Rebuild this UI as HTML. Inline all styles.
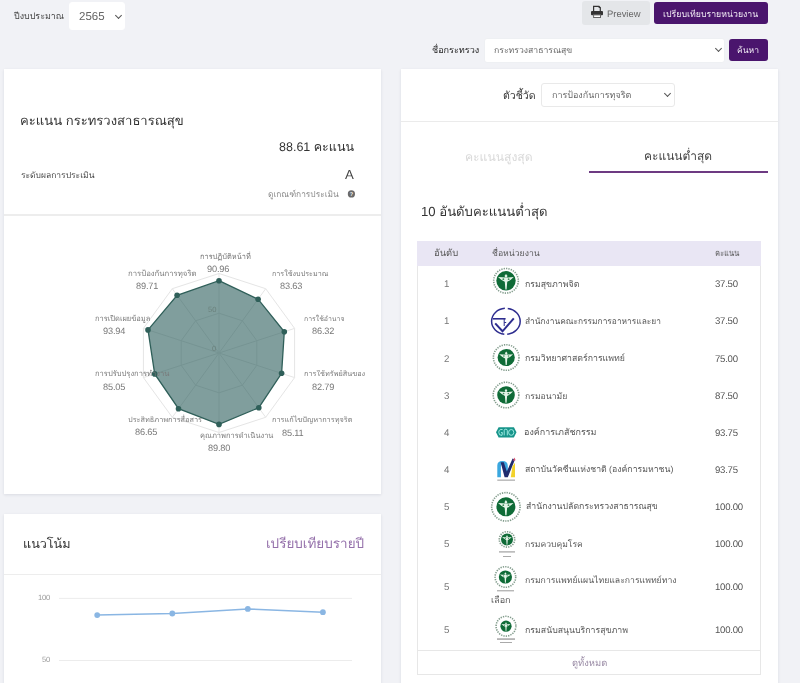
<!DOCTYPE html>
<html><head><meta charset="utf-8">
<style>
*{box-sizing:border-box;margin:0;padding:0}
html,body{width:800px;height:683px;overflow:hidden}
body{background:#f1f2f6;font-family:"Liberation Sans",sans-serif;color:#333;position:relative;text-rendering:geometricPrecision}
.a{position:absolute}
.t{position:absolute;white-space:nowrap;line-height:1;will-change:transform}
.card{position:absolute;background:#fff;box-shadow:0 1px 3px rgba(20,30,60,.10)}
.sel{position:absolute;background:#fff;border-radius:3px;border:1px solid #e7e8ec}
.chev{position:absolute;width:5px;height:5px;border-right:1.4px solid #555;border-bottom:1.4px solid #555;transform:rotate(45deg)}
.btnp{position:absolute;background:#4a156d;border-radius:3px}
</style></head>
<body>
<!-- top bar -->
<div class="sel" style="left:68.6px;top:2px;width:56.4px;height:27.8px;border-color:#fff"></div>
<div class="chev" style="left:115.5px;top:12.5px"></div>

<div class="a" style="left:582px;top:1.2px;width:67.5px;height:24px;background:#e4e6e9;border-radius:3px"></div>
<svg class="a" style="left:590px;top:5px" width="14" height="14" viewBox="0 0 14 14">
 <path d="M3.6,6.4 V1.4 H9 L10.3,2.7 V6.4" fill="none" stroke="#333" stroke-width="1.2"/>
 <path d="M8.6,0.9 L10.8,3.1 L8.6,3.1 Z" fill="#333"/>
 <rect x="1" y="6" width="12" height="4.2" rx="1" fill="#333"/>
 <rect x="3.6" y="9.9" width="6.9" height="2.6" fill="#fff" stroke="#666" stroke-width="1"/>
</svg>

<div class="btnp" style="left:654px;top:1.8px;width:113.8px;height:22.6px"></div>

<div class="sel" style="left:483.5px;top:38px;width:241.5px;height:24.5px;border-color:#eef0f3"></div>
<div class="chev" style="left:716px;top:46px"></div>
<div class="btnp" style="left:729px;top:39px;width:38.8px;height:21.6px"></div>

<!-- card 1 -->
<div class="card" style="left:4px;top:69px;width:377px;height:425px"></div>
<svg class="a" style="left:347px;top:190px" width="9" height="9" viewBox="0 0 9 9"><circle cx="4.4" cy="3.9" r="3.6" fill="#6a6a6a"/><text x="4.4" y="6" font-size="5.5" font-weight="bold" text-anchor="middle" fill="#fff" font-family="Liberation Sans">?</text></svg>
<div class="a" style="left:4px;top:214px;width:377px;height:2px;background:#ededed"></div>

<svg class="a" style="left:0;top:0" width="400" height="500" viewBox="0 0 400 500">
<polygon points="219.0,273.5 265.7,288.7 294.6,328.4 294.6,377.6 265.7,417.3 219.0,432.5 172.3,417.3 143.4,377.6 143.4,328.4 172.3,288.7" fill="none" stroke="#e5e5e5" stroke-width="1"/>
<polygon points="219.0,313.2 242.4,320.8 256.8,340.7 256.8,365.3 242.4,385.2 219.0,392.8 195.6,385.2 181.2,365.3 181.2,340.7 195.6,320.8" fill="none" stroke="#e5e5e5" stroke-width="1"/>
<line x1="219.0" y1="353.0" x2="219.0" y2="273.5" stroke="#e5e5e5" stroke-width="1"/>
<line x1="219.0" y1="353.0" x2="265.7" y2="288.7" stroke="#e5e5e5" stroke-width="1"/>
<line x1="219.0" y1="353.0" x2="294.6" y2="328.4" stroke="#e5e5e5" stroke-width="1"/>
<line x1="219.0" y1="353.0" x2="294.6" y2="377.6" stroke="#e5e5e5" stroke-width="1"/>
<line x1="219.0" y1="353.0" x2="265.7" y2="417.3" stroke="#e5e5e5" stroke-width="1"/>
<line x1="219.0" y1="353.0" x2="219.0" y2="432.5" stroke="#e5e5e5" stroke-width="1"/>
<line x1="219.0" y1="353.0" x2="172.3" y2="417.3" stroke="#e5e5e5" stroke-width="1"/>
<line x1="219.0" y1="353.0" x2="143.4" y2="377.6" stroke="#e5e5e5" stroke-width="1"/>
<line x1="219.0" y1="353.0" x2="143.4" y2="328.4" stroke="#e5e5e5" stroke-width="1"/>
<line x1="219.0" y1="353.0" x2="172.3" y2="288.7" stroke="#e5e5e5" stroke-width="1"/>
<polygon points="219.0,280.7 258.1,299.2 284.3,331.8 281.6,373.3 258.8,407.7 219.0,424.4 178.5,408.7 154.7,373.9 148.0,329.9 177.1,295.3" fill="rgba(44,94,92,0.6)" stroke="#2f5f59" stroke-width="1.3"/>
<circle cx="219.0" cy="280.7" r="2.8" fill="#2f5f59"/>
<circle cx="258.1" cy="299.2" r="2.8" fill="#2f5f59"/>
<circle cx="284.3" cy="331.8" r="2.8" fill="#2f5f59"/>
<circle cx="281.6" cy="373.3" r="2.8" fill="#2f5f59"/>
<circle cx="258.8" cy="407.7" r="2.8" fill="#2f5f59"/>
<circle cx="219.0" cy="424.4" r="2.8" fill="#2f5f59"/>
<circle cx="178.5" cy="408.7" r="2.8" fill="#2f5f59"/>
<circle cx="154.7" cy="373.9" r="2.8" fill="#2f5f59"/>
<circle cx="148.0" cy="329.9" r="2.8" fill="#2f5f59"/>
<circle cx="177.1" cy="295.3" r="2.8" fill="#2f5f59"/>
</svg>

<!-- card 2 -->
<div class="card" style="left:4px;top:514px;width:377px;height:200px"></div>
<div class="a" style="left:4px;top:573.5px;width:377px;height:1.5px;background:#ededed"></div>
<svg class="a" style="left:0;top:0" width="400" height="683" viewBox="0 0 400 683">
 <line x1="59" y1="598.4" x2="352" y2="598.4" stroke="#ececec" stroke-width="1"/>
 <line x1="59" y1="660.5" x2="352" y2="660.5" stroke="#ececec" stroke-width="1"/>
 <polyline points="97.2,615.1 172.3,613.5 247.8,608.9 322.9,612.2" fill="none" stroke="#8ab6e3" stroke-width="1.5"/>
 <g fill="#8ab6e3"><circle cx="97.2" cy="615.1" r="2.9"/><circle cx="172.3" cy="613.5" r="2.9"/><circle cx="247.8" cy="608.9" r="2.9"/><circle cx="322.9" cy="612.2" r="2.9"/></g>
</svg>

<!-- right card -->
<div class="card" style="left:401px;top:69px;width:377px;height:640px"></div>
<div class="sel" style="left:541px;top:83px;width:134px;height:24px;border-color:#e9e9e9"></div>
<div class="chev" style="left:665px;top:91px"></div>
<div class="a" style="left:401px;top:120.5px;width:377px;height:1px;background:#ebebeb"></div>
<div class="a" style="left:589px;top:171px;width:179px;height:2px;background:#6d3a82"></div>

<!-- table -->
<div class="a" style="left:417px;top:241px;width:344px;height:434px;border:1px solid #e7e7e7"></div>
<div class="a" style="left:417px;top:241px;width:344px;height:25px;background:#e9e6f4"></div>
<div class="a" style="left:417px;top:650px;width:344px;height:1px;background:#e7e7e7"></div>

<svg class="a" style="left:0;top:0" width="800" height="683" viewBox="0 0 800 683"><circle cx="506" cy="280.8" r="12.3" fill="none" stroke="#2f5a40" stroke-width="1.6" stroke-dasharray="1.3 1.1" opacity=".6"/><circle cx="506" cy="280.8" r="9.7" fill="#0f6b37"/><g transform="translate(506,280.8) scale(1.021)" fill="#e4f4e8"><path d="M-7.8,-3.7 Q0,-2.9 7.6,-3.7 Q4.5,-0.4 1.2,1 L0.6,8.4 L-0.6,8.4 L-1.2,1 Q-4.5,-0.4 -7.8,-3.7 Z"/><path d="M0,-6.7 L1.5,-4.6 L0,-2.8 L-1.5,-4.6 Z"/><circle cx="-2.6" cy="-1.6" r="0.9" fill="#3f8a5a"/><circle cx="2.6" cy="-1.6" r="0.9" fill="#3f8a5a"/></g><g fill="none" stroke="#2e2d8f"><ellipse cx="505.9" cy="321.3" rx="14.3" ry="13" stroke-width="1.5" stroke-dasharray="19.96 3 39.9 3 30"/><path d="M492.8,318.8 H505.6" stroke-width="1.6"/><path d="M495.2,323.4 L502.5,331.3 L513.8,318.3" stroke-width="2"/><path d="M504.2,319 V326 M504.2,322.5 h2" stroke-width="1"/></g><circle cx="506.2" cy="357.5" r="12.8" fill="none" stroke="#2f5a40" stroke-width="1.6" stroke-dasharray="1.3 1.1" opacity=".6"/><circle cx="506.2" cy="357.5" r="8.6" fill="#0f6b37"/><g transform="translate(506.2,357.5) scale(0.905)" fill="#e4f4e8"><path d="M-7.8,-3.7 Q0,-2.9 7.6,-3.7 Q4.5,-0.4 1.2,1 L0.6,8.4 L-0.6,8.4 L-1.2,1 Q-4.5,-0.4 -7.8,-3.7 Z"/><path d="M0,-6.7 L1.5,-4.6 L0,-2.8 L-1.5,-4.6 Z"/><circle cx="-2.6" cy="-1.6" r="0.9" fill="#3f8a5a"/><circle cx="2.6" cy="-1.6" r="0.9" fill="#3f8a5a"/></g><circle cx="506" cy="395" r="12.8" fill="none" stroke="#2f5a40" stroke-width="1.6" stroke-dasharray="1.3 1.1" opacity=".6"/><circle cx="506" cy="395" r="8.8" fill="#0f6b37"/><g transform="translate(506,395) scale(0.926)" fill="#e4f4e8"><path d="M-7.8,-3.7 Q0,-2.9 7.6,-3.7 Q4.5,-0.4 1.2,1 L0.6,8.4 L-0.6,8.4 L-1.2,1 Q-4.5,-0.4 -7.8,-3.7 Z"/><path d="M0,-6.7 L1.5,-4.6 L0,-2.8 L-1.5,-4.6 Z"/><circle cx="-2.6" cy="-1.6" r="0.9" fill="#3f8a5a"/><circle cx="2.6" cy="-1.6" r="0.9" fill="#3f8a5a"/></g><path d="M498.6,427.3 H513.9 L516.5,432.35 L513.9,437.4 H498.6 L496,432.35 Z" fill="#17948a"/><g fill="none" stroke="#a8f0e8" stroke-width="0.9"><path d="M502.6,429.6 Q498.8,428.8 498.8,432.4 Q498.8,435.6 502,435.4 L502.4,432.6 H501"/><path d="M504.2,435.4 V430.2 Q504.2,429.2 505.8,429.2 Q507.3,429.2 507.3,430.4 V435.4"/><ellipse cx="511.2" cy="432.4" rx="2.6" ry="2.9"/></g><path d="M497.3,477.2 L497.3,465.5 Q497.3,461 502.3,461 Q507.8,461 507.8,466 L507.8,472 L504.6,472 L504.6,466.5 Q504.6,464.2 502.4,464.2 Q500.9,464.2 500.9,466.5 L500.9,477.2 Z" fill="#3aa7df"/><path d="M500.6,462.3 L503.8,462.3 L506.8,471.5 L512.6,458.6 L515,459.6 L507.8,477.3 L504.6,477.3 Z" fill="#1f2c6e"/><path d="M512.4,466.5 L515,462.8 L515,477.2 L510.8,477.2 Z" fill="#f2d22c"/><path d="M512.8,460.8 L514.6,457.4 L515.6,460.2 Z" fill="#d9506e"/><rect x="497.3" y="479.4" width="17.7" height="1.6" fill="#888" opacity=".55"/><circle cx="505.9" cy="506.8" r="14.2" fill="none" stroke="#2f5a40" stroke-width="1.6" stroke-dasharray="1.3 1.1" opacity=".6"/><circle cx="505.9" cy="506.8" r="9.5" fill="#0f6b37"/><g transform="translate(505.9,506.8) scale(1.000)" fill="#e4f4e8"><path d="M-7.8,-3.7 Q0,-2.9 7.6,-3.7 Q4.5,-0.4 1.2,1 L0.6,8.4 L-0.6,8.4 L-1.2,1 Q-4.5,-0.4 -7.8,-3.7 Z"/><path d="M0,-6.7 L1.5,-4.6 L0,-2.8 L-1.5,-4.6 Z"/><circle cx="-2.6" cy="-1.6" r="0.9" fill="#3f8a5a"/><circle cx="2.6" cy="-1.6" r="0.9" fill="#3f8a5a"/></g><circle cx="507" cy="539.4" r="7.7" fill="none" stroke="#2f5a40" stroke-width="1.6" stroke-dasharray="1.3 1.1" opacity=".6"/><circle cx="507" cy="539.4" r="6" fill="#0f6b37"/><g transform="translate(507,539.4) scale(0.632)" fill="#e4f4e8"><path d="M-7.8,-3.7 Q0,-2.9 7.6,-3.7 Q4.5,-0.4 1.2,1 L0.6,8.4 L-0.6,8.4 L-1.2,1 Q-4.5,-0.4 -7.8,-3.7 Z"/><path d="M0,-6.7 L1.5,-4.6 L0,-2.8 L-1.5,-4.6 Z"/><circle cx="-2.6" cy="-1.6" r="0.9" fill="#3f8a5a"/><circle cx="2.6" cy="-1.6" r="0.9" fill="#3f8a5a"/></g><rect x="499" y="551.3" width="16" height="1.2" fill="#777" opacity=".7"/><rect x="503" y="556" width="8" height="1" fill="#aaa"/><circle cx="505.4" cy="577" r="10.3" fill="none" stroke="#2f5a40" stroke-width="1.6" stroke-dasharray="1.3 1.1" opacity=".6"/><circle cx="505.4" cy="577" r="6.6" fill="#0f6b37"/><g transform="translate(505.4,577) scale(0.695)" fill="#e4f4e8"><path d="M-7.8,-3.7 Q0,-2.9 7.6,-3.7 Q4.5,-0.4 1.2,1 L0.6,8.4 L-0.6,8.4 L-1.2,1 Q-4.5,-0.4 -7.8,-3.7 Z"/><path d="M0,-6.7 L1.5,-4.6 L0,-2.8 L-1.5,-4.6 Z"/><circle cx="-2.6" cy="-1.6" r="0.9" fill="#3f8a5a"/><circle cx="2.6" cy="-1.6" r="0.9" fill="#3f8a5a"/></g><rect x="497" y="590.3" width="17" height="1" fill="#999"/><circle cx="506" cy="626.2" r="9.9" fill="none" stroke="#2f5a40" stroke-width="1.6" stroke-dasharray="1.3 1.1" opacity=".6"/><circle cx="506" cy="626.2" r="5.6" fill="#0f6b37"/><g transform="translate(506,626.2) scale(0.589)" fill="#e4f4e8"><path d="M-7.8,-3.7 Q0,-2.9 7.6,-3.7 Q4.5,-0.4 1.2,1 L0.6,8.4 L-0.6,8.4 L-1.2,1 Q-4.5,-0.4 -7.8,-3.7 Z"/><path d="M0,-6.7 L1.5,-4.6 L0,-2.8 L-1.5,-4.6 Z"/><circle cx="-2.6" cy="-1.6" r="0.9" fill="#3f8a5a"/><circle cx="2.6" cy="-1.6" r="0.9" fill="#3f8a5a"/></g><rect x="497" y="638.5" width="18" height="1.1" fill="#666" opacity=".8"/><rect x="500" y="642" width="12" height="1" fill="#aaa"/></svg>
<div class="t" style="left:14.4px;top:11.5px;font-size:8.93px;color:#444">ปีงบประมาณ</div>
<div class="t" style="left:78.6px;top:11.7px;font-size:11.5px;color:#666">2565</div>
<div class="t" style="left:606.9px;top:8.8px;font-size:9.44px;color:#666">Preview</div>
<div class="t" style="left:663.0px;top:9.5px;font-size:8.77px;color:#f2edf5">เปรียบเทียบรายหน่วยงาน</div>
<div class="t" style="left:432.2px;top:46.1px;font-size:9.08px;color:#222">ชื่อกระทรวง</div>
<div class="t" style="left:493.8px;top:46.3px;font-size:8.68px;color:#666">กระทรวงสาธารณสุข</div>
<div class="t" style="left:737.4px;top:46.1px;font-size:8.56px;color:#f2edf5">ค้นหา</div>
<div class="t" style="left:19.7px;top:114.0px;font-size:13.08px;color:#333">คะแนน กระทรวงสาธารณสุข</div>
<div class="t" style="left:278.8px;top:141.1px;font-size:12.5px;color:#333">88.61 คะแนน</div>
<div class="t" style="left:20.7px;top:170.7px;font-size:8.49px;color:#444">ระดับผลการประเมิน</div>
<div class="t" style="left:345.0px;top:167.7px;font-size:13.2px;color:#444">A</div>
<div class="t" style="left:267.9px;top:189.9px;font-size:8.4px;color:#888">ดูเกณฑ์การประเมิน</div>
<div class="t" style="left:503.1px;top:91.1px;font-size:10.52px;color:#333">ตัวชี้วัด</div>
<div class="t" style="left:552.2px;top:91.0px;font-size:8.97px;color:#666">การป้องกันการทุจริต</div>
<div class="t" style="left:465.4px;top:150.5px;font-size:12.14px;color:#d9d9d9">คะแนนสูงสุด</div>
<div class="t" style="left:643.7px;top:151.1px;font-size:11.97px;color:#444">คะแนนต่ำสุด</div>
<div class="t" style="left:420.7px;top:204.7px;font-size:13.13px;color:#333">10 อันดับคะแนนต่ำสุด</div>
<div class="t" style="left:433.9px;top:248.1px;font-size:9.43px;color:#555">อันดับ</div>
<div class="t" style="left:491.5px;top:249.2px;font-size:8.69px;color:#555">ชื่อหน่วยงาน</div>
<div class="t" style="left:714.6px;top:249.3px;font-size:9.2px;color:#555;transform:scaleX(0.820);transform-origin:0 0">คะแนน</div>
<div class="t" style="left:525.4px;top:279.5px;font-size:8.76px;color:#555">กรมสุขภาพจิต</div>
<div class="t" style="left:444.0px;top:280.0px;font-size:9.7px;color:#777">1</div>
<div class="t" style="left:714.6px;top:280.0px;font-size:9.6px;color:#555;letter-spacing:-0.25px">37.50</div>
<div class="t" style="left:524.8px;top:316.9px;font-size:8.39px;color:#555">สำนักงานคณะกรรมการอาหารและยา</div>
<div class="t" style="left:444.0px;top:317.3px;font-size:9.7px;color:#777">1</div>
<div class="t" style="left:714.6px;top:317.3px;font-size:9.6px;color:#555;letter-spacing:-0.25px">37.50</div>
<div class="t" style="left:525.0px;top:354.2px;font-size:8.76px;color:#555">กรมวิทยาศาสตร์การแพทย์</div>
<div class="t" style="left:444.0px;top:354.5px;font-size:9.7px;color:#777">2</div>
<div class="t" style="left:714.6px;top:354.5px;font-size:9.6px;color:#555;letter-spacing:-0.25px">75.00</div>
<div class="t" style="left:524.9px;top:391.5px;font-size:8.67px;color:#555">กรมอนามัย</div>
<div class="t" style="left:444.0px;top:391.8px;font-size:9.7px;color:#777">3</div>
<div class="t" style="left:714.6px;top:391.8px;font-size:9.6px;color:#555;letter-spacing:-0.25px">87.50</div>
<div class="t" style="left:524.0px;top:427.5px;font-size:8.96px;color:#555">องค์การเภสัชกรรม</div>
<div class="t" style="left:444.0px;top:428.5px;font-size:9.7px;color:#777">4</div>
<div class="t" style="left:714.6px;top:428.5px;font-size:9.6px;color:#555;letter-spacing:-0.25px">93.75</div>
<div class="t" style="left:525.0px;top:465.0px;font-size:8.72px;color:#555">สถาบันวัคซีนแห่งชาติ (องค์การมหาชน)</div>
<div class="t" style="left:444.0px;top:465.7px;font-size:9.7px;color:#777">4</div>
<div class="t" style="left:714.6px;top:465.7px;font-size:9.6px;color:#555;letter-spacing:-0.25px">93.75</div>
<div class="t" style="left:525.5px;top:502.2px;font-size:8.73px;color:#555">สำนักงานปลัดกระทรวงสาธารณสุข</div>
<div class="t" style="left:444.0px;top:502.8px;font-size:9.7px;color:#777">5</div>
<div class="t" style="left:714.6px;top:502.8px;font-size:9.6px;color:#555;letter-spacing:-0.25px">100.00</div>
<div class="t" style="left:525.1px;top:539.5px;font-size:8.58px;color:#555">กรมควบคุมโรค</div>
<div class="t" style="left:444.0px;top:539.9px;font-size:9.7px;color:#777">5</div>
<div class="t" style="left:714.6px;top:539.9px;font-size:9.6px;color:#555;letter-spacing:-0.25px">100.00</div>
<div class="t" style="left:525.3px;top:575.5px;font-size:8.68px;color:#555">กรมการแพทย์แผนไทยและการแพทย์ทาง</div>
<div class="t" style="left:444.0px;top:583.1px;font-size:9.7px;color:#777">5</div>
<div class="t" style="left:714.6px;top:583.1px;font-size:9.6px;color:#555;letter-spacing:-0.25px">100.00</div>
<div class="t" style="left:525.0px;top:626.0px;font-size:8.78px;color:#555">กรมสนับสนุนบริการสุขภาพ</div>
<div class="t" style="left:444.0px;top:626.1px;font-size:9.7px;color:#777">5</div>
<div class="t" style="left:714.6px;top:626.1px;font-size:9.6px;color:#555;letter-spacing:-0.25px">100.00</div>
<div class="t" style="left:491.0px;top:595.5px;font-size:9.05px;color:#555">เลือก</div>
<div class="t" style="left:572.0px;top:657.9px;font-size:9.4px;color:#9788a3">ดูทั้งหมด</div>
<div class="t" style="left:23.4px;top:538.3px;font-size:12.61px;color:#333">แนวโน้ม</div>
<div class="t" style="left:266.0px;top:537.4px;font-size:13.49px;color:#9571ab">เปรียบเทียบรายปี</div>
<div class="t" style="left:37.5px;top:593.6px;font-size:7.6px;color:#999;letter-spacing:-0.2px">100</div>
<div class="t" style="left:41.5px;top:656.4px;font-size:7.6px;color:#999;letter-spacing:-0.2px">50</div>
<div class="t" style="left:200.1px;top:252.9px;font-size:7.41px;color:#777">การปฏิบัติหน้าที่</div>
<div class="t" style="left:207.4px;top:265.2px;font-size:9.2px;color:#777;letter-spacing:-0.15px">90.96</div>
<div class="t" style="left:271.9px;top:270.9px;font-size:7.18px;color:#777">การใช้งบประมาณ</div>
<div class="t" style="left:279.8px;top:282.2px;font-size:9.2px;color:#777;letter-spacing:-0.15px">83.63</div>
<div class="t" style="left:304.3px;top:316.9px;font-size:6.92px;color:#777">การใช้อำนาจ</div>
<div class="t" style="left:312.2px;top:327.2px;font-size:9.2px;color:#777;letter-spacing:-0.15px">86.32</div>
<div class="t" style="left:304.3px;top:370.2px;font-size:7.3px;color:#777;width:60.7px;overflow:hidden">การใช้ทรัพย์สินของราชการ</div>
<div class="t" style="left:312.2px;top:382.5px;font-size:9.2px;color:#777;letter-spacing:-0.15px">82.79</div>
<div class="t" style="left:271.9px;top:416.2px;font-size:7.33px;color:#777">การแก้ไขปัญหาการทุจริต</div>
<div class="t" style="left:281.6px;top:428.5px;font-size:9.2px;color:#777;letter-spacing:-0.15px">85.11</div>
<div class="t" style="left:200.0px;top:431.7px;font-size:7.47px;color:#777">คุณภาพการดำเนินงาน</div>
<div class="t" style="left:207.5px;top:444.0px;font-size:9.2px;color:#777;letter-spacing:-0.15px">89.80</div>
<div class="t" style="left:127.5px;top:415.8px;font-size:7.33px;color:#777">ประสิทธิภาพการสื่อสาร</div>
<div class="t" style="left:134.8px;top:428.1px;font-size:9.2px;color:#777;letter-spacing:-0.15px">86.65</div>
<div class="t" style="left:94.7px;top:370.2px;font-size:7.57px;color:#777">การปรับปรุงการทำงาน</div>
<div class="t" style="left:102.6px;top:382.5px;font-size:9.2px;color:#777;letter-spacing:-0.15px">85.05</div>
<div class="t" style="left:94.7px;top:314.7px;font-size:7.49px;color:#777">การเปิดเผยข้อมูล</div>
<div class="t" style="left:102.6px;top:327.0px;font-size:9.2px;color:#777;letter-spacing:-0.15px">93.94</div>
<div class="t" style="left:127.5px;top:269.9px;font-size:7.75px;color:#777">การป้องกันการทุจริต</div>
<div class="t" style="left:136.2px;top:282.2px;font-size:9.2px;color:#777;letter-spacing:-0.15px">89.71</div>
<div class="t" style="left:207.9px;top:306.3px;font-size:7.6px;color:#6a807c">50</div>
<div class="t" style="left:212.3px;top:345.1px;font-size:7.6px;color:#6a807c">0</div>
</body></html>
